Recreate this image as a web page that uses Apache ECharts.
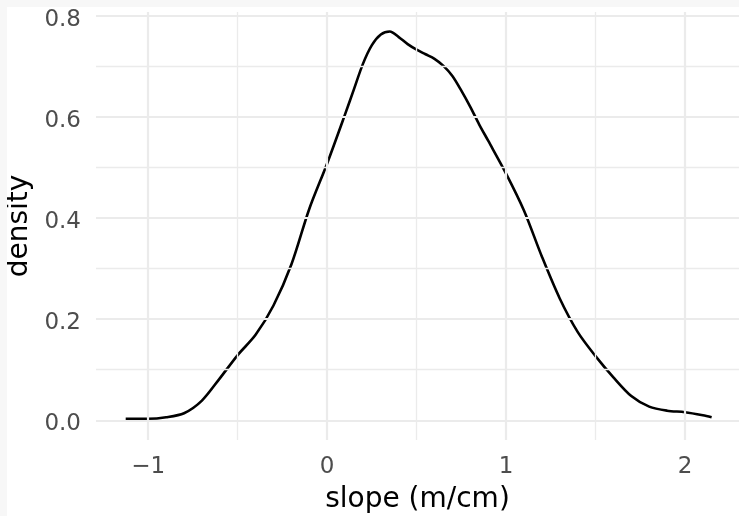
<!DOCTYPE html>
<html>
<head>
<meta charset="utf-8">
<script src="https://cdn.jsdelivr.net/npm/echarts@6/dist/echarts.min.js"></script>
<style>
  html, body { margin: 0; padding: 0; background: #f7f7f7; }
  #chart { position: absolute; left: 7px; top: 7px; width: 732px; height: 509px; background: #ffffff; }
</style>
</head>
<body>
<div id="chart"></div>
<script>
// Kernel density estimate of slope values (m/cm)
const slopeX = [-1.126, -1.0, -0.9, -0.8, -0.7, -0.6, -0.5, -0.4, -0.3, -0.2, -0.1, 0.0, 0.1, 0.15, 0.2, 0.25,
  0.3, 0.35, 0.4, 0.45, 0.5, 0.55, 0.6, 0.65, 0.7, 0.75, 0.8, 0.85, 0.9, 1.0, 1.1, 1.2, 1.3, 1.4, 1.5, 1.6, 1.7,
  1.8, 1.9, 2.0, 2.1, 2.149];
const densityY = [0.003, 0.003, 0.006, 0.014, 0.039, 0.083, 0.129, 0.169, 0.227, 0.308, 0.418, 0.508, 0.605, 0.655,
  0.705, 0.742, 0.763, 0.769, 0.758, 0.744, 0.733, 0.724, 0.715, 0.701, 0.681, 0.652, 0.620, 0.585, 0.553, 0.488,
  0.415, 0.324, 0.241, 0.175, 0.127, 0.085, 0.048, 0.027, 0.019, 0.016, 0.010, 0.006];

// Axis breaks
const xTicks = [-1, 0, 1, 2];
const xMinor = [-0.5, 0.5, 1.5];
const yTicks = [0, 0.2, 0.4, 0.6, 0.8];
const yMinor = [0.1, 0.3, 0.5, 0.7];

const gridColor = '#ebebeb';
const font = 'DejaVu Sans';

const gridLines = [];
xTicks.forEach(v => gridLines.push({ xAxis: v, lineStyle: { type: 'solid', width: 2.2, color: gridColor } }));
xMinor.forEach(v => gridLines.push({ xAxis: v, lineStyle: { type: 'solid', width: 1.3, color: gridColor } }));
yTicks.forEach(v => gridLines.push({ yAxis: v, lineStyle: { type: 'solid', width: 2.2, color: gridColor } }));
yMinor.forEach(v => gridLines.push({ yAxis: v, lineStyle: { type: 'solid', width: 1.3, color: gridColor } }));

const chart = echarts.init(document.getElementById('chart'), null, { renderer: 'canvas' });
chart.setOption({
  animation: false,
  backgroundColor: '#ffffff',
  grid: { left: 89, right: 0, top: 5, bottom: 76, containLabel: false, outerBoundsMode: 'none' },
  xAxis: {
    type: 'value',
    min: -1.292,
    max: 2.302,
    name: 'slope (m/cm)',
    nameLocation: 'middle',
    nameGap: 46,
    nameTextStyle: { fontFamily: font, fontSize: 28, color: '#000000' },
    axisLine: { show: false },
    axisTick: { show: false },
    splitLine: { show: false },
    axisLabel: {
      customValues: xTicks,
      margin: 16,
      fontFamily: font,
      fontSize: 23,
      color: '#4d4d4d',
      formatter: v => (v < 0 ? '\u2212' + Math.abs(v) : String(v))
    }
  },
  yAxis: {
    type: 'value',
    min: -0.039,
    max: 0.8076,
    name: 'density',
    nameLocation: 'middle',
    nameGap: 61,
    nameRotate: 90,
    nameTextStyle: { fontFamily: font, fontSize: 28, color: '#000000' },
    axisLine: { show: false },
    axisTick: { show: false },
    splitLine: { show: false },
    axisLabel: {
      customValues: yTicks,
      margin: 15,
      fontFamily: font,
      fontSize: 23,
      color: '#4d4d4d',
      formatter: v => '{t|' + v.toFixed(1) + '}',
      rich: {
        t: { fontFamily: font, fontSize: 23, color: '#4d4d4d', padding: [8, 0, 0, 0] }
      }
    }
  },
  series: [
    {
      type: 'line',
      data: [],
      z: 1,
      silent: true,
      markLine: {
        silent: true,
        symbol: 'none',
        label: { show: false },
        animation: false,
        data: gridLines
      }
    },
    {
      type: 'line',
      z: 3,
      data: slopeX.map((x, i) => [x, densityY[i]]),
      smooth: 0.3,
      showSymbol: false,
      lineStyle: { color: '#000000', width: 2.6 }
    }
  ]
});
</script>
</body>
</html>
